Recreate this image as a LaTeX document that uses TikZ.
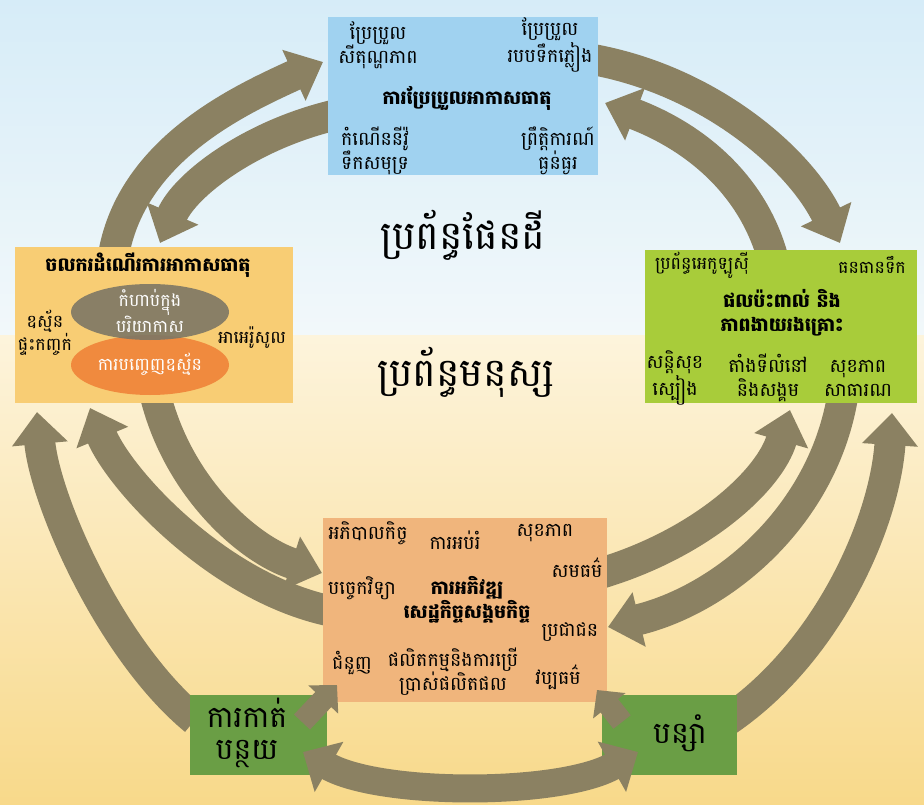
\documentclass[tikz,border=0pt]{standalone}
\usepackage{fontspec}
\newfontfamily\kh[Script=Khmer]{Battambang}
\usetikzlibrary{arrows.meta,shapes.geometric}
\definecolor{arr}{HTML}{8B8162}
\definecolor{bluebox}{HTML}{A0D2F0}
\definecolor{leftbox}{HTML}{F8CD74}
\definecolor{greybl}{HTML}{7D7765}
\definecolor{orangebl}{HTML}{F08A3E}
\definecolor{greenbox}{HTML}{A8CC3A}
\definecolor{orangebox}{HTML}{F0B57C}
\definecolor{darkgreen}{HTML}{6A9E45}
\definecolor{bgtop}{HTML}{D6ECF8}
\definecolor{bgmid}{HTML}{F2F8FA}
\definecolor{bgcream}{HTML}{FDF4DC}
\definecolor{bgbot}{HTML}{F8D98A}
\tikzset{
  bigarrow/.style={draw=arr, line width=31pt, -{Triangle[width=54pt,length=32pt]}},
  smallarrow/.style={draw=arr, line width=22pt, -{Triangle[width=40pt,length=20pt]}},
  dblarrow/.style={draw=arr, line width=28pt, {Triangle[width=56pt,length=30pt]}-{Triangle[width=56pt,length=30pt]}},
  panel/.style={draw=none, inner sep=0pt, outer sep=0pt},
  lbl/.style={font=\kh\fontsize{19}{24}\selectfont, align=center, inner sep=0pt, text=black},
  slbl/.style={font=\kh\fontsize{17.5}{23}\selectfont, align=center, inner sep=0pt, text=black},
  hdr/.style={font=\kh\bfseries\fontsize{19}{24}\selectfont, align=center, inner sep=0pt, text=black},
  big/.style={font=\kh\fontsize{39.5}{46}\selectfont, align=center, inner sep=0pt, text=black},
  glbl/.style={font=\kh\fontsize{30}{32}\selectfont, align=center, inner sep=0pt, text=black},
}
\begin{document}
\begin{tikzpicture}[x=1pt,y=-1pt]
\useasboundingbox (0,0) rectangle (924,805);
% background
\shade[top color=bgtop, bottom color=bgmid] (0,0) rectangle (924,335);
\shade[top color=bgcream, bottom color=bgbot] (0,335) rectangle (924,805);

% arrow end points
\coordinate (a1s) at (113,258); \coordinate (a1e) at (323,62);
\coordinate (a2s) at (335,115); \coordinate (a2e) at (160,243);
\coordinate (a3s) at (590,59);  \coordinate (a3e) at (840,243);
\coordinate (a4s) at (772,255); \coordinate (a4e) at (605,103);
\coordinate (b1s) at (195,720); \coordinate (b1e) at (37,412);
\coordinate (b2s) at (335,612); \coordinate (b2e) at (90,408);
\coordinate (b3s) at (156,398); \coordinate (b3e) at (322,573);
\coordinate (c1s) at (595,575); \coordinate (c1e) at (790,410);
\coordinate (c2s) at (842,400); \coordinate (c2e) at (608,627);
\coordinate (c3s) at (728,720); \coordinate (c3e) at (892,413);

\draw[bigarrow] (a1s) .. controls (130,150) and (240,100) .. (a1e);
\draw[bigarrow] (a2s) .. controls (250,135) and (185,185) .. (a2e);
\draw[bigarrow] (a3s) .. controls (710,80) and (800,160) .. (a3e);
\draw[bigarrow] (a4s) .. controls (750,180) and (690,135) .. (a4e);
\draw[bigarrow] (b1s) .. controls (110,650) and (45,500) .. (b1e);
\draw[bigarrow] (b2s) .. controls (220,590) and (120,480) .. (b2e);
\draw[bigarrow] (b3s) .. controls (180,490) and (250,550) .. (b3e);
\draw[bigarrow] (c1s) .. controls (700,545) and (770,480) .. (c1e);
\draw[bigarrow] (c2s) .. controls (820,520) and (720,600) .. (c2e);
\draw[bigarrow] (c3s) .. controls (830,650) and (885,520) .. (c3e);

% panels
\node[panel, fill=bluebox, minimum width=270pt, minimum height=158pt] (clim) at (463,96) {};
\node[panel, fill=leftbox, minimum width=278pt, minimum height=156pt] (drv) at (154,325) {};
\node[panel, fill=greenbox, minimum width=272pt, minimum height=153pt] (imp) at (781,326.5) {};
\node[panel, fill=orangebox, minimum width=284pt, minimum height=184pt] (dev) at (465,610) {};
\node[panel, fill=darkgreen, minimum width=137pt, minimum height=80pt] (mit) at (258.5,735) {};
\node[panel, fill=darkgreen, minimum width=135pt, minimum height=80pt] (ada) at (669.5,735) {};

% ellipses
\node[ellipse, fill=orangebl, minimum width=158pt, minimum height=60pt, inner sep=0pt] (emis) at (150,365) {};
\node[ellipse, fill=greybl, fill opacity=0.9, minimum width=158pt, minimum height=56pt, inner sep=0pt] (conc) at (150,312) {};

% small arrows and bottom arc
\coordinate (s1s) at (302,722); \coordinate (s1e) at (337,685);
\coordinate (s2s) at (622,722); \coordinate (s2e) at (597,690);
\draw[smallarrow] (s1s) -- (s1e);
\draw[smallarrow] (s2s) -- (s2e);
\coordinate (ds) at (303,752); \coordinate (de) at (638,752);
\draw[dblarrow] (ds) .. controls (380,796) and (560,796) .. (de);

% top panel texts
\node[lbl] (t1) at (378,45) {ប្រែប្រួល\\សីតុណ្ហភាព};
\node[lbl] (t2) at (550,45) {ប្រែប្រួល\\របបទឹកភ្លៀង};
\node[hdr] (t3) at (467,98) {ការប្រែប្រួលអាកាសធាតុ};
\node[lbl] (t4) at (375,151) {កំណើននីវ៉ូ\\ទឹកសមុទ្រ};
\node[lbl] (t5) at (558,151) {ព្រឹត្តិការណ៍\\ធ្ងន់ធ្ងរ};

% left panel texts
\node[hdr] (l1) at (148,265) {ចលករដំណើរការអាកាសធាតុ};
\node[slbl, text=white] (l2) at (150,311) {កំហាប់ក្នុង\\បរិយាកាស};
\node[slbl] (l3) at (45,333) {ឧស្ម័ន\\ផ្ទះកញ្ចក់};
\node[slbl] (l4) at (252,338) {អាអេរ៉ូសូល};
\node[slbl, text=white] (l5) at (150,364) {ការបញ្ចេញឧស្ម័ន};

% right panel texts
\node[slbl] (r1) at (702,265) {ប្រព័ន្ធអេកូឡូស៊ី};
\node[slbl] (r2) at (872,265) {ធនធានទឹក};
\node[hdr] (r3) at (782,313) {ផលប៉ះពាល់ និង\\ភាពងាយរងគ្រោះ};
\node[lbl] (r4) at (675,378) {សន្តិសុខ\\ស្បៀង};
\node[lbl] (r5) at (768,378) {តាំងទីលំនៅ\\និងសង្គម};
\node[lbl] (r6) at (858,378) {សុខភាព\\សាធារណ};

% centre texts
\node[big] (earth) at (463,235) {ប្រព័ន្ធផែនដី};
\node[big] (human) at (466,372) {ប្រព័ន្ធមនុស្ស};

% bottom panel texts
\node[lbl] (d1) at (368,533) {អភិបាលកិច្ច};
\node[lbl] (d2) at (455,540) {ការអប់រំ};
\node[lbl] (d3) at (545,533) {សុខភាព};
\node[lbl] (d4) at (577,568) {សមធម៌};
\node[lbl] (d5) at (362,588) {បច្ចេកវិទ្យា};
\node[hdr] (d6) at (467,600) {ការអភិវឌ្ឍ\\សេដ្ឋកិច្ចសង្គមកិច្ច};
\node[lbl] (d7) at (570,632) {ប្រជាជន};
\node[lbl] (d8) at (352,663) {ជំនួញ};
\node[lbl] (d9) at (453,672) {ផលិតកម្មនិងការប្រើ\\ប្រាស់ផលិតផល};
\node[lbl] (d10) at (558,677) {វប្បធម៌};

% green box texts
\node[glbl] (m1) at (247,733) {ការកាត់\\បន្ថយ};
\node[glbl] (m2) at (680,733) {បន្សាំ};
\end{tikzpicture}
\end{document}
